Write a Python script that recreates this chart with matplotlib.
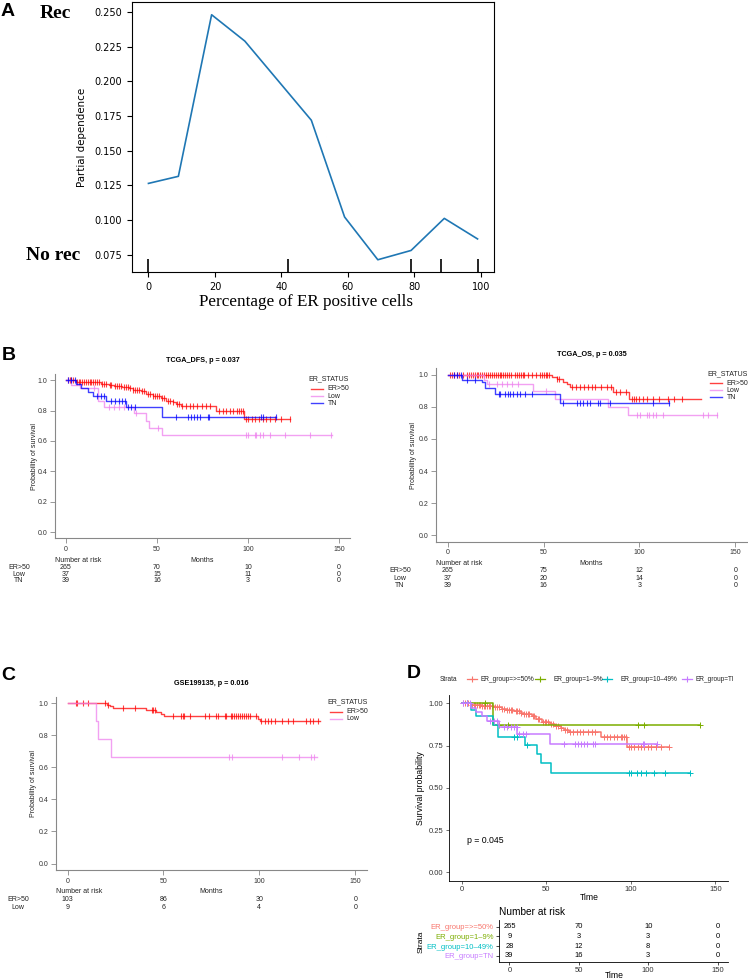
import matplotlib
matplotlib.use("Agg")
import matplotlib.pyplot as plt
from matplotlib.lines import Line2D
from matplotlib.ticker import FormatStrFormatter
from matplotlib.transforms import blended_transform_factory

W, H = 748, 980
SANS = "Liberation Sans"
SERIF = "Liberation Serif"

# ---- panel A: partial dependence ----
pd_x = [0, 9, 19, 29, 39, 49, 59, 69, 79, 89, 99]
pd_y = [0.1265, 0.1316, 0.248, 0.229, 0.2005, 0.172, 0.1023, 0.0715, 0.0782, 0.1013, 0.0865]
pd_deciles = [0, 42, 79, 88, 99]

# ---- TCGA DFS (also used in panel D) ----
dfs_er50_t = [5.5, 11.9, 19.2, 23.8, 26.6, 31, 34.8, 36.6, 41.3, 44, 47.6, 52.3, 55, 58.6, 60.5, 63.3, 82.5, 97.7]
dfs_er50_s = [0.99, 0.985, 0.977, 0.968, 0.962, 0.955, 0.946, 0.936, 0.925, 0.908, 0.893, 0.88, 0.865, 0.854,
              0.843, 0.832, 0.80, 0.742]
dfs_er50_end = 122.8
dfs_er50_cens = [1, 2, 3, 4, 6, 7, 8, 9, 10, 11, 12, 13, 14, 15, 16, 17, 18, 20, 21, 22, 24, 25, 27, 28, 29, 30,
                 32, 33, 34, 35, 37, 38, 39, 40, 42, 43, 45, 46, 48, 49, 50, 51, 53, 54, 56, 57, 59, 61, 62, 64,
                 66, 68, 70, 72, 74.5, 77, 79, 84, 86, 88, 90, 92, 94, 95, 96, 97, 99, 100, 102, 104, 106, 108,
                 110, 112, 115, 118, 122.8]

dfs_low_t = [3, 8, 17.4, 21, 37.6, 44, 45.8, 52.6]
dfs_low_s = [0.97, 0.945, 0.865, 0.82, 0.786, 0.731, 0.687, 0.636]
dfs_low_end = 146
dfs_low_cens = [1, 15.5, 23.8, 26.6, 29.3, 32, 38.5, 50.4, 99, 100, 103.6, 104.5, 106.4, 108.2, 112.2, 120.1,
                133.8, 145.7]

dfs_tn_t = [5.5, 8.5, 12, 15, 22, 33, 52.5]
dfs_tn_s = [0.974, 0.949, 0.923, 0.897, 0.862, 0.821, 0.76]
dfs_tn_end = 115.5
dfs_tn_cens = [1, 3, 5, 17, 19, 21, 25, 27, 29, 31, 32.5, 34, 36, 38, 60.5, 66.9, 68.8, 70.6, 72.1, 73.9,
               77.9, 78.8, 107.3, 108.1, 115.5]

dfs_risk_er50 = [265, 70, 10, 0]
dfs_risk_low = [37, 15, 11, 0]
dfs_risk_tn = [39, 16, 3, 0]

# ---- TCGA OS ----
os_er50_t = [54.2, 56.8, 60.2, 62, 63.7, 86.2, 94.8]
os_er50_s = [0.985, 0.975, 0.955, 0.94, 0.922, 0.895, 0.846]
os_er50_end = 132.4
os_er50_cens = [1, 2, 3, 5, 6, 8, 10, 11, 12, 13, 14, 15, 16, 17, 18, 19, 20, 21, 22, 23, 24, 25, 26, 27, 28,
                29, 30, 31, 32, 33, 35, 36, 37, 38, 39, 40, 42, 44, 46, 48, 49, 50, 51, 52, 53, 57, 58, 65, 67,
                69, 71, 73, 75, 77, 80, 83, 85, 88, 90, 93, 96, 97, 98, 100, 102, 104, 107, 110, 115, 118, 122]

os_low_t = [18.7, 20.4, 44.6, 55.9, 83.5, 94]
os_low_s = [0.965, 0.94, 0.896, 0.846, 0.80, 0.75]
os_low_end = 140.5
os_low_cens = [21.3, 25.6, 28.2, 30.8, 33.4, 36.8, 51, 98.6, 100.3, 103.8, 105.2, 107.3, 108.6, 112.5,
               133.2, 135.8, 140.5]

os_tn_t = [7.5, 17.8, 19.6, 24.8, 58.5]
os_tn_s = [0.97, 0.954, 0.916, 0.88, 0.825]
os_tn_end = 115.3
os_tn_cens = [3, 5, 7, 10, 14, 26.6, 27.5, 30.1, 31.3, 32.7, 34.1, 35.9, 37.6, 40.4, 44, 60.2, 67.2, 68.9,
              70.6, 72.4, 74.1, 78.4, 79.3, 84.5, 107, 115.3]

os_risk_er50 = [265, 75, 12, 0]
os_risk_low = [37, 20, 14, 0]
os_risk_tn = [39, 16, 3, 0]

# ---- GSE199135 ----
gse_er50_t = [20.5, 22, 23.5, 41, 46, 48.5, 50.5, 99.5, 100.5]
gse_er50_s = [0.99, 0.98, 0.97, 0.957, 0.944, 0.93, 0.917, 0.90, 0.89]
gse_er50_end = 131.5
gse_er50_cens = [4.2, 5, 8.1, 10.7, 19.4, 20.9, 29, 35.1, 43.8, 44.6, 45.5, 55.1, 59.1, 60, 60.8, 63.8, 71.9,
                 73.7, 77.3, 78.5, 82, 82.5, 85, 86, 87, 88, 89, 90, 91, 92, 93, 94, 95, 98.5, 101.1, 102.9,
                 104.6, 106, 108.1, 111.6, 115, 117.6, 124.6, 126.3, 128, 130.7]

gse_low_t = [14.8, 15.8, 22.9]
gse_low_s = [0.889, 0.778, 0.667]
gse_low_end = 130
gse_low_cens = [84.1, 85.8, 111.9, 120.8, 127.2, 128.6]

gse_risk_er50 = [103, 86, 30, 0]
gse_risk_low = [9, 6, 4, 0]

# ---- panel D extra groups (ER>=50% and TN reuse the DFS curves) ----
d_19_t = [18.5]
d_19_s = [0.875]
d_19_end = 141.2
d_19_cens = [14, 22.2, 27.1, 104.4, 107.9, 141.2]

d_1049_t = [5.7, 8.7, 18.5, 21.5, 37.5, 44.7, 46.8, 53.1]
d_1049_s = [0.96, 0.927, 0.875, 0.80, 0.753, 0.698, 0.645, 0.586]
d_1049_end = 135.3
d_1049_cens = [3, 30.7, 32.7, 38.6, 98.9, 99.9, 103.8, 105.8, 109.3, 113.6, 120.5, 135.3]

d_labels = ["ER_group=>=50%", "ER_group=1\u20139%", "ER_group=10\u201349%", "ER_group=TN"]
d_colors = ["#F8766D", "#7CAE00", "#00BFC4", "#C77CFF"]
d_risk = [[265, 70, 10, 0], [9, 3, 3, 0], [28, 12, 8, 0], [39, 16, 3, 0]]

risk_times = [0, 50, 100, 150]


def px_axes(fig, x0, y0, x1, y1):
    return fig.add_axes([x0 / W, 1 - y1 / H, (x1 - x0) / W, (y1 - y0) / H])


def fig_text(fig, x, y, s, **kw):
    return fig.text(x / W, 1 - y / H, s, **kw)


def km_line(times, surv, end):
    return [0] + list(times) + [end], [1.0] + list(surv) + [surv[-1]]


def surv_at(times, surv, t):
    value = 1.0
    for ti, si in zip(times, surv):
        if t >= ti:
            value = si
    return value


def panel_a(fig):
    ax = px_axes(fig, 132, 2.5, 494, 272)
    ax.plot(pd_x, pd_y, color="#1f77b4", lw=1.2)
    trans = blended_transform_factory(ax.transData, ax.transAxes)
    ax.vlines(pd_deciles, 0, 0.05, transform=trans, color="k", lw=1.2)
    ax.set_yticks([0.075, 0.1, 0.125, 0.15, 0.175, 0.2, 0.225, 0.25])
    ax.yaxis.set_major_formatter(FormatStrFormatter("%.3f"))
    ax.set_xticks([0, 20, 40, 60, 80, 100])
    ax.tick_params(labelsize=7, length=3.5, width=0.8)
    ax.set_ylabel("Partial dependence", fontsize=7.4, labelpad=5)
    fig_text(fig, 306, 302, "Percentage of ER positive cells", family=SERIF, fontsize=12.3,
             ha="center", va="center")
    fig_text(fig, 55, 13, "Rec", family=SERIF, fontsize=14, weight="bold", ha="center", va="center")
    fig_text(fig, 53, 256, "No rec", family=SERIF, fontsize=14, weight="bold", ha="center", va="center")


def base_km(fig, box, title, ylab_x, curves, leg_xy, risk_label_x, nar_y, risk_ys):
    ax = px_axes(fig, *box)
    for name, times, surv, end, cens, color, risk in curves:
        x, y = km_line(times, surv, end)
        ax.step(x, y, where="post", color=color, lw=1.0, alpha=0.75)
        ax.plot(cens, [surv_at(times, surv, c) for c in cens], ls="none", marker="|", ms=4,
                mew=0.8, color=color, alpha=0.75)
    ax.set_xlim(-6, 156)
    ax.set_ylim(-0.04, 1.04)
    for side in ["top", "right"]:
        ax.spines[side].set_visible(False)
    for side in ["left", "bottom"]:
        ax.spines[side].set_color("#888888")
        ax.spines[side].set_linewidth(0.8)
    ax.set_xticks(risk_times)
    ax.set_yticks([0, 0.2, 0.4, 0.6, 0.8, 1.0])
    ax.yaxis.set_major_formatter(FormatStrFormatter("%.1f"))
    ax.tick_params(length=3.5, width=0.6, color="#888888", labelsize=5, labelcolor="#333333", pad=2)
    for lab in ax.get_xticklabels() + ax.get_yticklabels():
        lab.set_family(SANS)

    tb = blended_transform_factory(ax.transData, fig.transFigure)
    ax.text(75, 1 - (box[1] - 13.5) / H, title, transform=tb, ha="center", va="center",
            family=SANS, fontsize=5.2, weight="bold")
    fig_text(fig, ylab_x, (box[1] + box[3]) / 2, "Probability of survival", rotation=90, ha="center",
             va="center", family=SANS, fontsize=5, color="#222222")

    # legend
    lx, ly = leg_xy
    fig_text(fig, lx, ly, "ER_STATUS", family=SANS, fontsize=5, va="center", color="#222222")
    for i, (name, times, surv, end, cens, color, risk) in enumerate(curves):
        yy = 1 - (ly + 9.8 + 7.2 * i) / H
        fig.add_artist(Line2D([(lx + 3) / W, (lx + 15) / W], [yy, yy], color=color, lw=1.0, alpha=0.75))
        fig.text((lx + 19.5) / W, yy, name, family=SANS, fontsize=5, va="center", color="#222222")

    # number at risk
    fig_text(fig, box[0], nar_y, "Number at risk", family=SANS, fontsize=5, va="center", color="#222222")
    ax.text(75, 1 - nar_y / H, "Months", transform=tb, ha="center", va="center", family=SANS,
            fontsize=5, color="#222222")
    for (name, times, surv, end, cens, color, risk), ry in zip(curves, risk_ys):
        fig_text(fig, risk_label_x, ry, name, family=SANS, fontsize=5, ha="center", va="center",
                 color="#222222")
        for t, n in zip(risk_times, risk):
            ax.text(t, 1 - ry / H, str(n), transform=tb, ha="center", va="center", family=SANS,
                    fontsize=5, color="#222222")
    return ax


def panel_d(fig):
    ax = px_axes(fig, 449, 695, 728, 880.7)
    curves = [(dfs_er50_t, dfs_er50_s, dfs_er50_end, dfs_er50_cens),
              (d_19_t, d_19_s, d_19_end, d_19_cens),
              (d_1049_t, d_1049_s, d_1049_end, d_1049_cens),
              (dfs_tn_t, dfs_tn_s, dfs_tn_end, dfs_tn_cens)]
    for (times, surv, end, cens), color in zip(curves, d_colors):
        x, y = km_line(times, surv, end)
        ax.step(x, y, where="post", color=color, lw=1.1)
        ax.plot(cens, [surv_at(times, surv, c) for c in cens], ls="none", marker="+", ms=4,
                mew=0.7, color=color)
    ax.set_xlim(-7.5, 157.5)
    ax.set_ylim(-0.05, 1.05)
    for side in ["top", "right"]:
        ax.spines[side].set_visible(False)
    for side in ["left", "bottom"]:
        ax.spines[side].set_linewidth(0.6)
    ax.set_xticks(risk_times)
    ax.set_yticks([0, 0.25, 0.5, 0.75, 1.0])
    ax.yaxis.set_major_formatter(FormatStrFormatter("%.2f"))
    ax.tick_params(length=2.5, width=0.5, color="#333333", labelsize=5.5, labelcolor="#333333", pad=1.5)
    for lab in ax.get_xticklabels() + ax.get_yticklabels():
        lab.set_family(SANS)
    ax.text(3, 0.19, "p = 0.045", family=SANS, fontsize=6.3, va="center")
    fig_text(fig, 420.7, 788, "Survival probability", rotation=90, ha="center", va="center",
             family=SANS, fontsize=6.3)
    fig_text(fig, 589, 897, "Time", ha="center", va="center", family=SANS, fontsize=6.2)

    # legend strip (clipped at the right like the original)
    lg = px_axes(fig, 436, 670, 733, 690)
    lg.set_xlim(436, 733)
    lg.set_ylim(690, 670)
    lg.axis("off")
    lg.text(439.7, 679, "Strata", family=SANS, fontsize=4.7, va="center", color="#222222")
    key_x = [471.5, 540, 607, 687]
    lab_x = [480.7, 553, 620.7, 695.7]
    for kx, tx, name, color in zip(key_x, lab_x, d_labels, d_colors):
        lg.plot([kx - 5, kx + 5], [679, 679], color=color, lw=0.9)
        lg.plot([kx], [679], marker="+", ms=4, mew=0.8, color=color)
        lg.text(tx, 679, name, family=SANS, fontsize=4.7, va="center", color="#222222", clip_on=True)

    # risk table
    rk = px_axes(fig, 499, 920, 728, 961.7)
    rk.set_xlim(-7.5, 157.5)
    rk.set_ylim(0.38, 4.69)
    for side in ["top", "right"]:
        rk.spines[side].set_visible(False)
    for side in ["left", "bottom"]:
        rk.spines[side].set_linewidth(0.6)
    rows = [4, 3, 2, 1]
    for row, risk in zip(rows, d_risk):
        for t, n in zip(risk_times, risk):
            rk.text(t, row, str(n), ha="center", va="center", family=SANS, fontsize=5.4)
    rk.set_yticks(rows)
    rk.set_yticklabels(d_labels, family=SANS, fontsize=5.4)
    for lab, color in zip(rk.get_yticklabels(), d_colors):
        lab.set_color(color)
    rk.set_xticks(risk_times)
    rk.tick_params(length=2.5, width=0.5, labelsize=5.5, pad=1.5)
    rk.tick_params(axis="x", labelcolor="#333333")
    for lab in rk.get_xticklabels():
        lab.set_family(SANS)
    fig_text(fig, 499, 912.3, "Number at risk", family=SANS, fontsize=7.3, va="center")
    fig_text(fig, 420.7, 941.7, "Strata", rotation=90, ha="center", va="center", family=SANS, fontsize=6)
    fig_text(fig, 614, 975, "Time", ha="center", va="center", family=SANS, fontsize=6.2)


def main():
    fig = plt.figure(figsize=(W / 100, H / 100), dpi=100)

    panel_a(fig)

    red, pink, blue = "#ff0000", "#ee82ee", "#0000ff"
    dfs_curves = [("ER>50", dfs_er50_t, dfs_er50_s, dfs_er50_end, dfs_er50_cens, red, dfs_risk_er50),
                  ("Low", dfs_low_t, dfs_low_s, dfs_low_end, dfs_low_cens, pink, dfs_risk_low),
                  ("TN", dfs_tn_t, dfs_tn_s, dfs_tn_end, dfs_tn_cens, blue, dfs_risk_tn)]
    base_km(fig, (55, 374, 350, 538.3), "TCGA_DFS, p = 0.037", 34.3, dfs_curves, (308.3, 379),
            19, 560, [567, 574, 581])

    os_curves = [("ER>50", os_er50_t, os_er50_s, os_er50_end, os_er50_cens, red, os_risk_er50),
                 ("Low", os_low_t, os_low_s, os_low_end, os_low_cens, pink, os_risk_low),
                 ("TN", os_tn_t, os_tn_s, os_tn_end, os_tn_cens, blue, os_risk_tn)]
    base_km(fig, (436.3, 368.3, 746.7, 541.7), "TCGA_OS, p = 0.035", 413.3, os_curves, (707, 373.3),
            400, 563.3, [571, 578.3, 585.7])

    gse_curves = [("ER>50", gse_er50_t, gse_er50_s, gse_er50_end, gse_er50_cens, red, gse_risk_er50),
                  ("Low", gse_low_t, gse_low_s, gse_low_end, gse_low_cens, pink, gse_risk_low)]
    base_km(fig, (56, 696.7, 366.7, 870), "GSE199135, p = 0.016", 33.3, gse_curves, (327, 701.7),
            18.3, 891.7, [899.3, 907])

    panel_d(fig)

    for lab, x, y in [("A", 8, 12), ("B", 8.5, 355.5), ("C", 8.5, 675), ("D", 414, 673.5)]:
        fig_text(fig, x, y, lab, family=SANS, fontsize=14, weight="bold", ha="center", va="center")

    fig.savefig("out.png", dpi=100)


if __name__ == "__main__":
    main()
